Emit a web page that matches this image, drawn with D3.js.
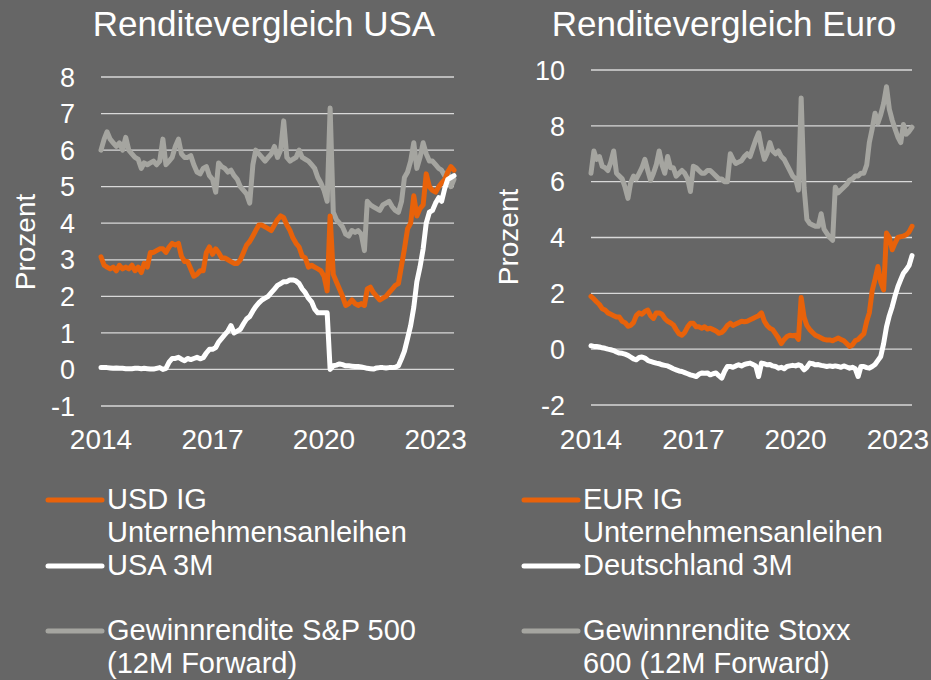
<!DOCTYPE html>
<html>
<head>
<meta charset="utf-8">
<script src="https://cdn.jsdelivr.net/npm/d3@7"></script>
<style>
  body { margin: 0; background: #666666; }
  svg text { font-family: "Liberation Sans", Arial, sans-serif; fill: #ffffff; }
</style>
</head>
<body>
<svg id="chart"></svg>
<script>
// monthly values, first point = Jan 2014
var yearTicks = ["2014", "2017", "2020", "2023"];

// USA (Jan 2014 - Jul 2023)
var usIG = [
  3.08, 2.85, 2.8, 2.75, 2.8, 2.7, 2.85, 2.75, 2.8, 2.75, 2.85, 2.7,
  2.8, 2.65, 2.9, 2.8, 3.2, 3.2, 3.25, 3.3, 3.3, 3.2, 3.35, 3.45,
  3.4, 3.45, 3.1, 2.95, 2.95, 2.75, 2.55, 2.6, 2.7, 2.7, 3.2, 3.35,
  3.15, 3.3, 3.2, 3.05, 3.05, 3.0, 2.95, 2.9, 2.9, 3.0, 3.2, 3.4,
  3.5, 3.65, 3.8, 3.95, 3.95, 3.9, 3.85, 3.8, 3.95, 4.1, 4.2, 4.15,
  3.95, 3.8, 3.6, 3.45, 3.35, 3.1, 3.05, 2.8, 2.85, 2.8, 2.75, 2.7,
  2.55, 2.15, 4.2, 2.6, 2.4, 2.2, 2.0, 1.75, 1.8, 1.9, 1.8, 1.75,
  1.8, 1.75, 2.2, 2.25, 2.1, 2.0, 1.9, 1.95, 2.0, 2.1, 2.2, 2.3,
  2.35, 2.85, 3.3, 3.85, 4.0, 4.75, 4.2, 4.4, 4.5, 5.35, 5.0, 4.9,
  4.85, 5.0, 5.1, 5.2, 5.4, 5.55, 5.45
];
var us3M = [
  0.05, 0.05, 0.05, 0.04, 0.03, 0.04, 0.03, 0.03, 0.02, 0.02, 0.02, 0.03,
  0.03, 0.02, 0.03, 0.02, 0.01, 0.01, 0.03, 0.05, 0.0, 0.03, 0.2, 0.3,
  0.3, 0.33, 0.28, 0.24, 0.3, 0.27, 0.3, 0.33, 0.29, 0.32, 0.45, 0.55,
  0.55, 0.6, 0.75, 0.85, 0.95, 1.05, 1.2, 1.0, 1.05, 1.1, 1.25, 1.38,
  1.45, 1.6, 1.72, 1.82, 1.9, 1.95, 2.0, 2.1, 2.2, 2.3, 2.35, 2.4,
  2.4, 2.45, 2.45, 2.42, 2.35, 2.2, 2.1, 1.95, 1.85, 1.65, 1.55, 1.55,
  1.55, 1.55, 0.0, 0.1, 0.12, 0.15, 0.13, 0.1, 0.1, 0.09, 0.08, 0.08,
  0.07, 0.05, 0.03, 0.02, 0.01, 0.04, 0.05, 0.05, 0.04, 0.05, 0.05, 0.06,
  0.1, 0.3, 0.5, 0.85, 1.2, 1.7, 2.4, 2.8, 3.3, 4.0, 4.3, 4.35,
  4.55, 4.7, 4.6, 4.95, 5.2, 5.25, 5.3
];
var usGewinn = [
  6.0, 6.3, 6.5, 6.3, 6.2, 6.1, 6.2, 6.0, 6.35, 6.0, 5.9, 5.8,
  5.75, 5.5, 5.65, 5.6, 5.65, 5.7, 5.6, 5.7, 6.3, 5.6, 5.7, 5.8,
  6.1, 6.3, 5.9, 5.8, 5.8, 5.85, 5.6, 5.4, 5.35, 5.5, 5.55, 5.3,
  5.2, 4.85, 5.65, 5.55, 5.5, 5.4, 5.45, 5.3, 5.2, 5.0, 4.9, 4.8,
  4.55, 5.6, 6.0, 5.9, 5.8, 5.7, 5.8, 5.9, 6.1, 5.8, 6.0, 6.8,
  5.8, 5.7, 5.75, 5.8, 6.0, 5.8, 5.75, 5.7, 5.6, 5.5, 5.25, 5.1,
  4.9, 4.6, 7.15, 4.3, 4.1, 4.0, 3.9, 3.7, 3.65, 3.8, 3.75, 3.8,
  3.7, 3.25, 4.6, 4.5, 4.45, 4.4, 4.35, 4.5, 4.55, 4.6, 4.45, 4.35,
  4.3, 4.6, 5.25, 5.4, 5.7, 6.2, 5.5, 5.8, 6.2, 5.9, 5.7, 5.7,
  5.6, 5.5, 5.45, 5.3, 5.4, 5.0, 5.2
];

// Euro (Jan 2014 - Jun 2023)
var euIG = [
  1.89, 1.8, 1.7, 1.6, 1.45, 1.4, 1.3, 1.25, 1.2, 1.15, 1.15, 1.0,
  0.95, 0.82, 0.85, 0.95, 1.2, 1.3, 1.25, 1.35, 1.4, 1.2, 1.1, 1.3,
  1.3, 1.25, 1.1, 1.0, 0.95, 0.87, 0.7, 0.55, 0.5, 0.6, 0.8, 0.93,
  0.93, 0.8, 0.8, 0.75, 0.8, 0.72, 0.75, 0.7, 0.65, 0.57, 0.6, 0.7,
  0.85, 0.93, 0.85, 0.9, 0.95, 1.0, 0.98, 1.0, 1.05, 1.1, 1.15, 1.2,
  1.3, 1.0, 0.85, 0.75, 0.7, 0.55, 0.4, 0.2, 0.35, 0.45, 0.5, 0.48,
  0.5, 0.35, 1.85, 1.15, 0.85, 0.7, 0.6, 0.5, 0.45, 0.4, 0.35, 0.33,
  0.33, 0.3, 0.35, 0.4, 0.35, 0.3, 0.2, 0.1, 0.15, 0.3, 0.35, 0.45,
  0.55, 1.0, 1.3, 2.1, 2.5, 2.96, 2.4, 2.12, 4.16, 4.0, 3.56, 3.8,
  4.0, 4.03, 4.05, 4.1, 4.2, 4.4
];
var de3M = [
  0.12, 0.1, 0.1, 0.08, 0.05, 0.03, 0.0, -0.02, -0.05, -0.1, -0.14, -0.15,
  -0.18, -0.22, -0.28, -0.35, -0.38, -0.3, -0.28, -0.32, -0.4, -0.44, -0.47, -0.5,
  -0.52, -0.56, -0.58, -0.6, -0.65, -0.7, -0.74, -0.78, -0.8, -0.84, -0.88, -0.92,
  -0.95, -0.98, -0.9, -0.85, -0.86, -0.85, -0.92, -0.88, -0.85, -0.95, -1.04, -0.8,
  -0.62, -0.62, -0.65, -0.6, -0.56, -0.6, -0.55, -0.52, -0.5, -0.55, -0.6, -0.98,
  -0.5, -0.52, -0.56, -0.55, -0.6, -0.62, -0.68, -0.65, -0.7, -0.62, -0.6, -0.58,
  -0.6, -0.56, -0.6, -0.74, -0.65, -0.5, -0.52, -0.56, -0.55, -0.58, -0.6, -0.62,
  -0.6, -0.62, -0.6, -0.62, -0.65, -0.6, -0.64, -0.68, -0.65, -0.7, -0.98, -0.62,
  -0.62, -0.66, -0.68, -0.62, -0.55, -0.4, -0.26, 0.2, 0.8, 1.2, 1.52, 1.9,
  2.24, 2.5, 2.72, 2.85, 3.0, 3.35
];
var euGewinn = [
  6.3, 7.1, 6.8, 6.9, 6.55, 6.5, 6.4, 6.7, 7.1, 6.3, 6.2, 6.1,
  5.8, 5.4, 5.95, 6.2, 6.1, 6.3, 6.5, 6.8, 6.4, 6.05, 6.3, 6.6,
  7.1, 6.6, 6.3, 6.9, 6.5, 6.5, 6.2, 6.3, 6.4, 6.3, 6.1, 5.65,
  6.55, 6.5, 6.4, 6.3, 6.3, 6.4, 6.4, 6.3, 6.2, 6.1, 6.1, 6.0,
  6.0, 7.0, 6.8, 6.65, 6.7, 6.75, 6.9, 7.0, 6.9, 7.2, 7.5, 7.75,
  7.2, 6.8, 7.0, 7.4, 7.1, 7.0, 7.1, 6.9, 6.8, 6.6, 6.4, 6.2,
  6.1, 5.7, 9.0, 5.8, 4.65, 4.5, 4.45, 4.4, 4.4, 4.85, 4.3, 4.15,
  4.0, 3.9, 5.8, 5.6, 5.7, 5.8, 5.9, 6.05, 6.1, 6.2, 6.2, 6.3,
  6.3, 6.6, 7.4, 7.9, 8.45, 8.1, 8.4, 8.8, 9.4, 8.6, 8.2, 7.9,
  7.6, 7.4, 8.05, 7.7, 7.8, 7.95
];

var width = 931,
    height = 680;

var colOrange = "#e8620a",
    colWhite = "#ffffff",
    colGray = "#a5a5a0";

var svg = d3.select("#chart")
    .attr("width", width)
    .attr("height", height);

svg.append("rect")
    .attr("width", width)
    .attr("height", height)
    .attr("fill", "#666666");

function monthDates(n) {
  return d3.range(n).map(function(i) { return new Date(2014, i, 1); });
}

function drawPanel(p) {
  var g = svg.append("g");
  var n = p.series[0].values.length;
  var dates = monthDates(n);

  var x = d3.scaleTime()
      .domain([dates[0], dates[n - 1]])
      .range([p.left, p.right]);

  var y = d3.scaleLinear()
      .domain(p.yDomain)
      .range([p.bottom, p.top]);

  var ticks = d3.range(p.yDomain[0], p.yDomain[1] + 0.001, p.yStep);

  // gridlines
  g.selectAll(".grid")
    .data(ticks)
    .enter().append("line")
      .attr("x1", p.left)
      .attr("x2", p.right)
      .attr("y1", function(d) { return y(d); })
      .attr("y2", function(d) { return y(d); })
      .attr("stroke", "#d9d9d9")
      .attr("stroke-width", 1.3);

  // y labels
  g.selectAll(".ylab")
    .data(ticks)
    .enter().append("text")
      .attr("x", p.left - 26)
      .attr("y", function(d) { return y(d); })
      .attr("dy", "0.36em")
      .attr("text-anchor", "end")
      .style("font-size", "27px")
      .text(function(d) { return d; });

  // x labels
  g.selectAll(".xlab")
    .data(yearTicks)
    .enter().append("text")
      .attr("x", function(d) { return x(new Date(+d, 0, 1)); })
      .attr("y", 449)
      .attr("text-anchor", "middle")
      .style("font-size", "28px")
      .text(function(d) { return d; });

  // axis title
  g.append("text")
      .attr("transform", "translate(" + p.yTitleX + "," + p.yTitleY + ") rotate(-90)")
      .attr("text-anchor", "middle")
      .style("font-size", "28px")
      .text("Prozent");

  // chart title
  g.append("text")
      .attr("x", p.titleX)
      .attr("y", 36)
      .attr("text-anchor", "middle")
      .style("font-size", "35px")
      .text(p.title);

  var line = d3.line()
      .x(function(d, i) { return x(dates[i]); })
      .y(function(d) { return y(d); })
      .curve(d3.curveLinear);

  // gray first, then orange, white on top
  [2, 0, 1].forEach(function(k) {
    var s = p.series[k];
    g.append("path")
        .datum(s.values)
        .attr("d", line)
        .attr("fill", "none")
        .attr("stroke", s.color)
        .attr("stroke-width", 5)
        .attr("stroke-linejoin", "round")
        .attr("stroke-linecap", "round");
  });

  // legend
  var legY = [500, 566, 631];
  p.series.forEach(function(s, k) {
    g.append("line")
        .attr("x1", p.legX)
        .attr("x2", p.legX + 54)
        .attr("y1", legY[k])
        .attr("y2", legY[k])
        .attr("stroke", s.color)
        .attr("stroke-width", 5)
        .attr("stroke-linecap", "round");
    var t = g.append("text")
        .attr("x", p.legX + 59)
        .attr("y", legY[k] + 9)
        .style("font-size", "29px");
    s.label.forEach(function(l, j) {
      t.append("tspan")
          .attr("x", p.legX + 59)
          .attr("dy", j === 0 ? 0 : 33)
          .text(l);
    });
  });
}

drawPanel({
  title: "Renditevergleich USA",
  titleX: 264,
  left: 101, right: 454, top: 77, bottom: 406,
  yDomain: [-1, 8], yStep: 1,
  yTitleX: 35, yTitleY: 242,
  legX: 48,
  series: [
    { values: usIG, color: colOrange, label: ["USD IG", "Unternehmensanleihen"] },
    { values: us3M, color: colWhite, label: ["USA 3M"] },
    { values: usGewinn, color: colGray, label: ["Gewinnrendite S&P 500", "(12M Forward)"] }
  ]
});

drawPanel({
  title: "Renditevergleich Euro",
  titleX: 724,
  left: 591, right: 912, top: 70, bottom: 405,
  yDomain: [-2, 10], yStep: 2,
  yTitleX: 518, yTitleY: 237,
  legX: 524,
  series: [
    { values: euIG, color: colOrange, label: ["EUR IG", "Unternehmensanleihen"] },
    { values: de3M, color: colWhite, label: ["Deutschland 3M"] },
    { values: euGewinn, color: colGray, label: ["Gewinnrendite Stoxx", "600 (12M Forward)"] }
  ]
});
</script>
</body>
</html>
